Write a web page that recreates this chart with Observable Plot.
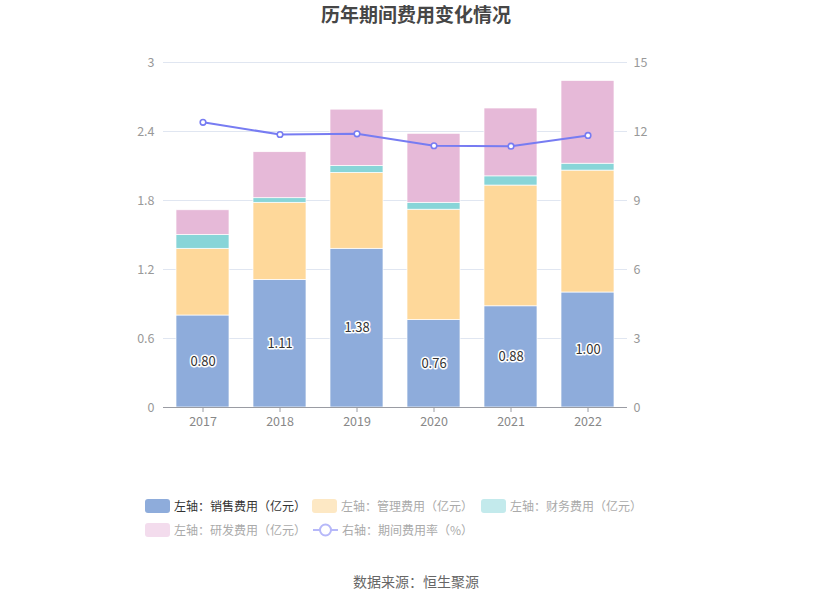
<!DOCTYPE html>
<html>
<head>
<meta charset="utf-8">
<script src="https://cdn.jsdelivr.net/npm/d3@7"></script>
<script src="https://cdn.jsdelivr.net/npm/@observablehq/plot@0.6"></script>
<style>
  html, body { margin: 0; padding: 0; background: #fff; }
  body { width: 832px; height: 603px; position: relative; overflow: hidden;
         font-family: "Noto Sans CJK SC", "Noto Sans", sans-serif; }
  #title { position: absolute; top: 0px; left: 0; width: 832px; text-align: center;
           font-size: 19px; line-height: 28px; font-weight: bold; color: #464646; }
  #chart { position: absolute; top: 30px; left: 0; }
  .lg { position: absolute; font-size: 12px; color: #aaa; white-space: nowrap; line-height: 16px; }
  .sw { position: absolute; width: 25px; height: 14px; border-radius: 3px; }
  #caption { position: absolute; top: 571px; left: 0; width: 832px; text-align: center;
             font-size: 14px; color: #666; }
</style>
</head>
<body>
<div id="title">历年期间费用变化情况</div>
<div id="chart"></div>
<div id="legend"></div>
<div id="caption">数据来源：恒生聚源</div>
<script>
const years = ["2017", "2018", "2019", "2020", "2021", "2022"];
const sales = [0.80, 1.11, 1.38, 0.76, 0.88, 1.00];
const admin = [0.58, 0.67, 0.66, 0.96, 1.05, 1.06];
const finance = [0.12, 0.04, 0.06, 0.06, 0.08, 0.06];
const rnd = [0.215, 0.40, 0.49, 0.60, 0.59, 0.72];
const rate = [12.40, 11.87, 11.90, 11.38, 11.36, 11.83];
const seriesNames = ["销售费用", "管理费用", "财务费用", "研发费用"];
const seriesColors = ["#8eacdb", "#fed89a", "#88d5d8", "#e6b9d8"];
const leftTicks = [0, 0.6, 1.2, 1.8, 2.4, 3];
const rightMax = 15, leftMax = 3;
const lineColor = "#777cf2";

const seriesValues = [sales, admin, finance, rnd];
const rows = [];
years.forEach((y, i) => {
  seriesNames.forEach((s, k) => rows.push({ year: y, series: s, value: seriesValues[k][i] }));
});
const rateRows = years.map((y, i) => ({ year: y, v: rate[i] * leftMax / rightMax }));
const labelRows = years.map((y, i) => ({ year: y, v: sales[i] / 2, t: sales[i].toFixed(2) }));

const chart = Plot.plot({
  width: 832,
  height: 420,
  marginTop: 32,
  marginBottom: 43,
  marginLeft: 163,
  marginRight: 205,
  style: { fontFamily: "\"Noto Sans CJK SC\", sans-serif", fontSize: "12.5px", color: "#999", background: "#fff" },
  x: { domain: years, paddingInner: 0.31, paddingOuter: 0.155, label: null },
  y: { domain: [0, leftMax], label: null },
  color: { domain: seriesNames, range: seriesColors },
  marks: [
    Plot.gridY(leftTicks, { stroke: "#e0e6f1", strokeOpacity: 1 }),
    Plot.barY(rows, Plot.stackY({ x: "year", y: "value", fill: "series", stroke: "#fff", strokeWidth: 0.7 })),
    Plot.text(labelRows, { x: "year", y: "v", text: "t", fill: "#333", stroke: "#fff", strokeWidth: 3, fontSize: 13 }),
    Plot.line(rateRows, { x: "year", y: "v", stroke: lineColor, strokeWidth: 2 }),
    Plot.dot(rateRows, { x: "year", y: "v", r: 2.8, fill: "#fff", stroke: lineColor, strokeWidth: 1.6 }),
    Plot.ruleY([0], { stroke: "#9a9ca3", strokeWidth: 1 }),
    Plot.axisX({ tickSize: 5, tickPadding: 5, stroke: "#9a9ca3", color: "#888", fontSize: 12.5 }),
    Plot.axisY({ anchor: "left", ticks: leftTicks, tickSize: 0, tickPadding: 9, tickFormat: d => String(d), color: "#999" }),
    Plot.axisY({ anchor: "right", ticks: leftTicks, tickSize: 0, tickPadding: 6, tickFormat: d => String(Math.round(d * rightMax / leftMax)), color: "#999" })
  ]
});
document.getElementById("chart").appendChild(chart);

// legend (HTML)
const legend = document.getElementById("legend");
const legendItems = [
  { text: "左轴：" + seriesNames[0] + "（亿元）", color: "#8eacdb", textColor: "#333", x: 145, y: 506 },
  { text: "左轴：" + seriesNames[1] + "（亿元）", color: "#fde8c4", textColor: "#aaa", x: 312, y: 506 },
  { text: "左轴：" + seriesNames[2] + "（亿元）", color: "#c3eaec", textColor: "#aaa", x: 481, y: 506 },
  { text: "左轴：" + seriesNames[3] + "（亿元）", color: "#f3dced", textColor: "#aaa", x: 145, y: 530 },
  { text: "右轴：期间费用率（%）", color: "#b6b8f9", textColor: "#aaa", x: 313, y: 530, line: true }
];
legendItems.forEach(it => {
  if (it.line) {
    const svg = document.createElementNS("http://www.w3.org/2000/svg", "svg");
    svg.setAttribute("width", 25); svg.setAttribute("height", 16);
    svg.style.position = "absolute";
    svg.style.left = it.x + "px"; svg.style.top = (it.y - 8) + "px";
    svg.innerHTML = `<line x1="0" y1="8" x2="25" y2="8" stroke="${it.color}" stroke-width="2"/>` +
      `<circle cx="12.5" cy="8" r="5.5" fill="#fff" stroke="${it.color}" stroke-width="2"/>`;
    legend.appendChild(svg);
  } else {
    const sw = document.createElement("div");
    sw.className = "sw";
    sw.style.left = it.x + "px"; sw.style.top = (it.y - 7) + "px";
    sw.style.background = it.color;
    legend.appendChild(sw);
  }
  const t = document.createElement("div");
  t.className = "lg";
  t.style.left = (it.x + 29) + "px"; t.style.top = (it.y - 8) + "px";
  t.style.color = it.textColor;
  t.textContent = it.text;
  legend.appendChild(t);
});
</script>
</body>
</html>
